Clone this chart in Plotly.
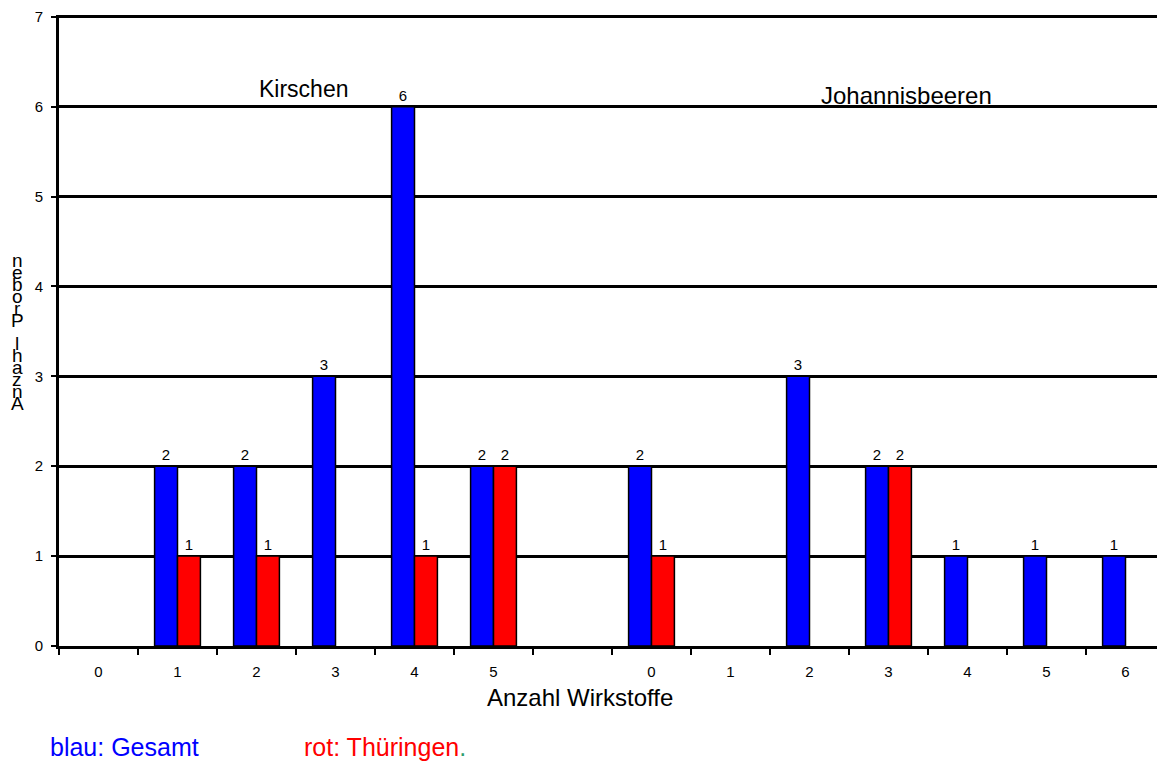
import plotly.graph_objects as go

# data
kirschen_labels = ["0", "1", "2", "3", "4", "5"]
kirschen_gesamt = [0, 2, 2, 3, 6, 2]
kirschen_thueringen = [0, 1, 1, 0, 1, 2]

johannis_labels = ["0", "1", "2", "3", "4", "5", "6"]
johannis_gesamt = [2, 0, 3, 2, 1, 1, 1]
johannis_thueringen = [1, 0, 0, 2, 0, 0, 0]

y_title = "Anzahl Proben"
x_title = "Anzahl Wirkstoffe"

# one empty slot between the two groups
tick_labels = kirschen_labels + [""] + johannis_labels
gesamt = kirschen_gesamt + [0] + johannis_gesamt
thueringen = kirschen_thueringen + [0] + johannis_thueringen
x_pos = list(range(len(tick_labels)))

FONT = "Liberation Sans, Arial, sans-serif"
# the page body adds an 8px margin, so the figure is a bit smaller
BODY = 8
PLOT_L, PLOT_T, PLOT_B = 59, 11, 646
W, H = 1165 - BODY, 767 - BODY
PW, PH = 1165 - PLOT_L, PLOT_B - PLOT_T


def px_x(px):
    return (px - PLOT_L) / PW


def px_y(py):
    return (PLOT_B - py) / PH


def bar_vals(vals):
    return [v if v else None for v in vals]


def bar_text(vals):
    return [str(v) if v else "" for v in vals]


fig = go.Figure()
fig.add_trace(go.Bar(
    x=x_pos, y=bar_vals(gesamt), name="Gesamt",
    marker=dict(color="#0000ff", line=dict(color="black", width=1.5)),
    text=bar_text(gesamt), textposition="outside", cliponaxis=False,
    textfont=dict(size=15, color="black", family=FONT),
))
fig.add_trace(go.Bar(
    x=x_pos, y=bar_vals(thueringen), name="Thüringen",
    marker=dict(color="#ff0000", line=dict(color="black", width=1.5)),
    text=bar_text(thueringen), textposition="outside", cliponaxis=False,
    textfont=dict(size=15, color="black", family=FONT),
))


def note(text, x, y, size, color="black", xanchor="center", xref="paper", yref="paper"):
    return dict(text=text, x=x, y=y, xref=xref, yref=yref, xanchor=xanchor,
                yanchor="middle", showarrow=False, font=dict(size=size, color=color))


annotations = [
    note("Kirschen", 2.6, 6.2, 23, xref="x", yref="y"),
    note("Johannisbeeren", 10.23, 6.13, 24, xref="x", yref="y"),
    note(x_title, px_x(580), px_y(698), 24),
    note("blau: Gesamt", px_x(48), px_y(748), 25, color="#0000ff", xanchor="left"),
    note("rot: Thüringen<span style='color:#2e9e6e'>.</span>", px_x(302), px_y(748), 25,
         color="#ff0000", xanchor="left"),
]

# the y title is drawn as upright letters stacked bottom to top
top, step = 258, 12.0
for i, ch in enumerate(reversed(y_title)):
    if ch == " ":
        continue
    annotations.append(note(ch, px_x(17), px_y(top + i * step), 19))

fig.update_layout(
    width=W, height=H,
    margin=dict(l=PLOT_L - BODY, r=0, t=PLOT_T - BODY, b=767 - PLOT_B),
    paper_bgcolor="white", plot_bgcolor="white",
    font=dict(family=FONT, color="black"),
    barmode="group", bargap=0.42, bargroupgap=0,
    showlegend=False,
    annotations=annotations,
)
fig.update_xaxes(
    range=[-0.5, len(tick_labels) - 0.5],
    tickmode="array", tickvals=x_pos, ticktext=tick_labels,
    ticks="", ticklabelstandoff=10, tickfont=dict(size=15),
    showgrid=False, zeroline=False,
    showline=True, linecolor="black", linewidth=3,
    minor=dict(tickmode="linear", tick0=-0.5, dtick=1, ticks="outside",
               ticklen=6, tickwidth=2, tickcolor="black", showgrid=False),
)
fig.update_yaxes(
    range=[0, 7.02], dtick=1, tick0=0,
    ticks="outside", ticklen=5, tickwidth=2, tickcolor="black",
    ticklabelstandoff=5, tickfont=dict(size=15), ticklabeloverflow="allow",
    showgrid=True, gridcolor="black", gridwidth=2.5, zeroline=False,
    showline=True, linecolor="black", linewidth=3,
)

fig.write_html("out.html")
